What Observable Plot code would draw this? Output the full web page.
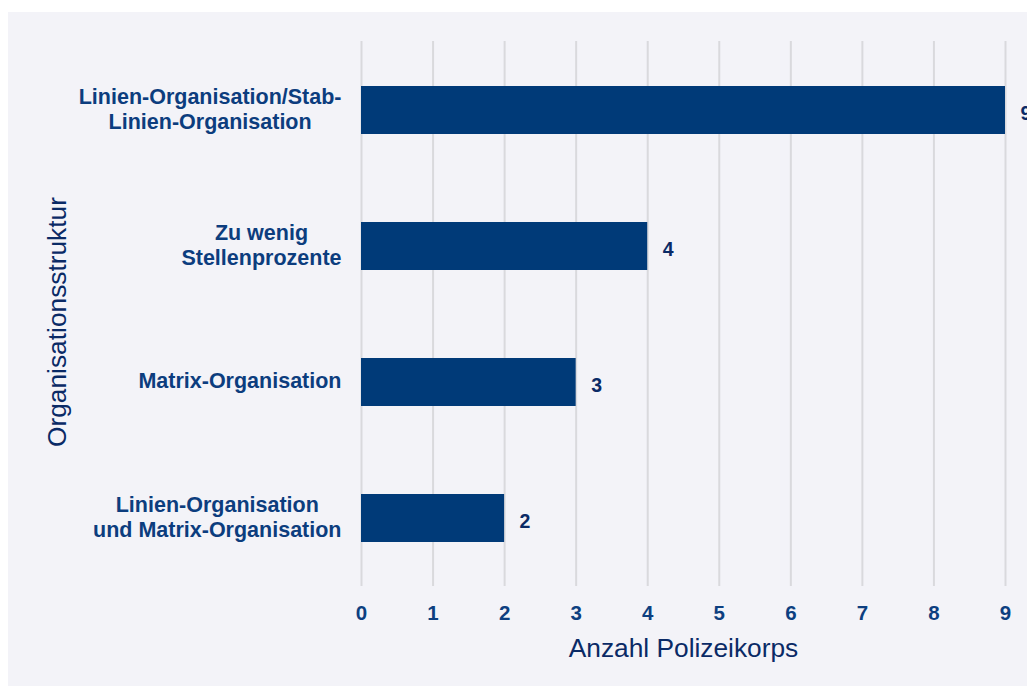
<!DOCTYPE html>
<html><head><meta charset="utf-8">
<script src="https://cdn.jsdelivr.net/npm/d3@7"></script>
<script src="https://cdn.jsdelivr.net/npm/@observablehq/plot@0.6"></script>
<style>
  html, body { margin: 0; padding: 0; background: #ffffff; overflow: hidden; }
  #panel { position: absolute; left: 8px; top: 12px; width: 1019px; height: 674px; background: #f3f3f8; overflow: hidden; }
</style>
</head><body>
<div id="panel"></div>
<script>
const categories = [
  "Linien-Organisation/Stab-\nLinien-Organisation",
  "Zu wenig\nStellenprozente",
  "Matrix-Organisation",
  "Linien-Organisation\nund Matrix-Organisation"
];
const values = [9, 4, 3, 2];
const xTicks = [0, 1, 2, 3, 4, 5, 6, 7, 8, 9];
const xTitle = "Anzahl Polizeikorps";
const yTitle = "Organisationsstruktur";

const data = categories.map((c, i) => ({cat: c, value: values[i]}));

const FONT = "'Liberation Sans', Arial, Helvetica, sans-serif";
const catFontSize = 21.5;
const canvas = document.createElement("canvas");
const ctx = canvas.getContext("2d");
ctx.font = `bold ${catFontSize}px 'Liberation Sans'`;
const widest = c => Math.max(...c.split("\n").map(l => ctx.measureText(l).width));

const catMarks = data.map(d => Plot.text([d], {
  x: () => 0, y: "cat", text: "cat",
  textAnchor: "middle", lineAnchor: "middle",
  dx: -(20 + widest(d.cat) / 2), dy: -2,
  fontSize: catFontSize, fontWeight: "bold", lineHeight: 1.15,
  fill: "#0c3d7e", fontFamily: FONT
}));

const chart = Plot.plot({
  width: 1019,
  height: 674,
  marginLeft: 353,
  marginRight: 22,
  marginTop: 29,
  marginBottom: 100,
  style: { background: "transparent", fontFamily: FONT, overflow: "visible" },
  x: { domain: [0, 9], axis: null },
  y: { domain: categories, paddingInner: 0.648, paddingOuter: 0.324, axis: null },
  marks: [
    Plot.gridX(xTicks, { stroke: "#d9d9dd", strokeOpacity: 1, strokeWidth: 2 }),
    Plot.barX(data, { x: "value", y: "cat", fill: "#003a78" }),
    Plot.text(data, {
      x: "value", y: "cat", text: d => String(d.value),
      textAnchor: "start", dx: 15, dy: 3,
      fontSize: 19.5, fontWeight: "bold", fill: "#0a2a66", fontFamily: FONT
    }),
    Plot.axisX(xTicks, {
      tickSize: 0, tickPadding: 19, label: null,
      fontSize: 20.5, fontWeight: "bold", fill: "#0d3f80", fontFamily: FONT
    }),
    ...catMarks,
    Plot.text([xTitle], {
      frameAnchor: "bottom", dy: 62, textAnchor: "middle", lineAnchor: "middle",
      fontSize: 26.3, fill: "#0a2a66", fontFamily: FONT
    }),
    Plot.text([yTitle], {
      frameAnchor: "left", dx: -304, dy: 8, rotate: -90,
      textAnchor: "middle", lineAnchor: "middle",
      fontSize: 26.3, fill: "#0a2a66", fontFamily: FONT
    })
  ]
});
document.getElementById("panel").appendChild(chart);
</script>
</body></html>
